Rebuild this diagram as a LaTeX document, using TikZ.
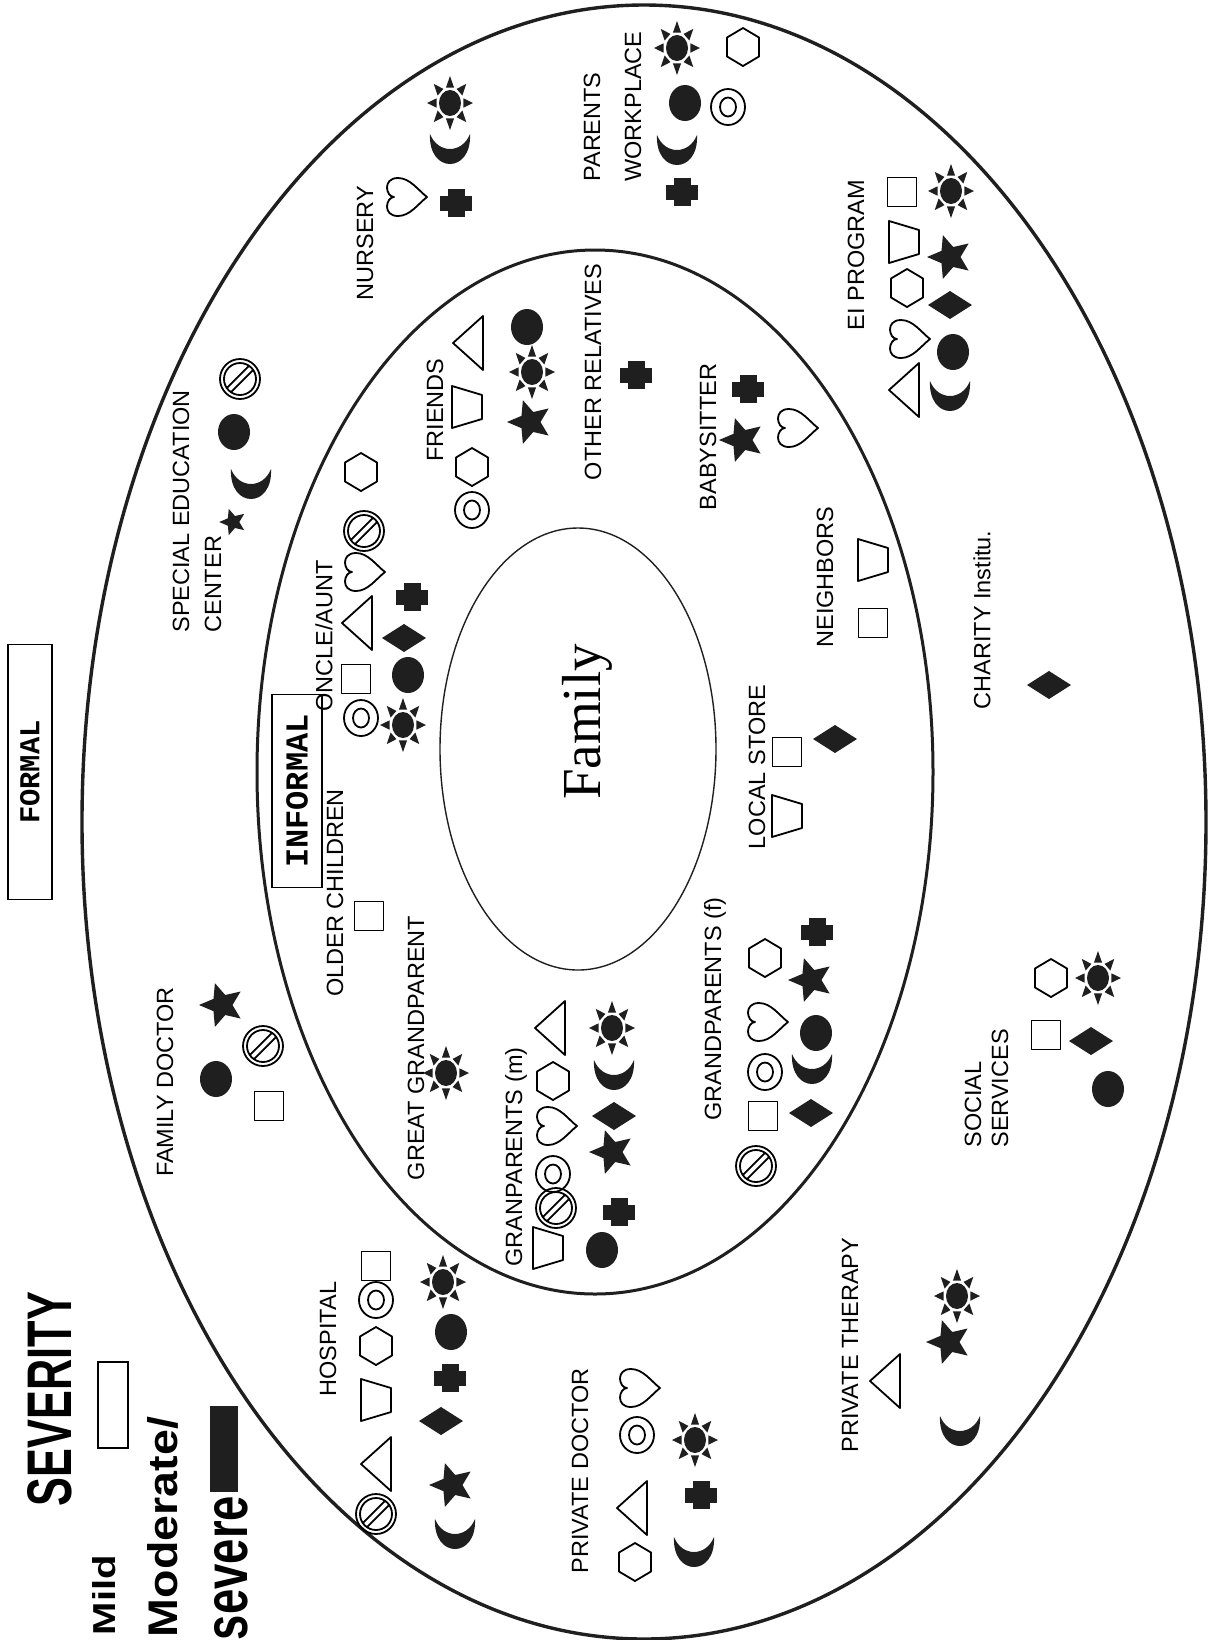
\documentclass[tikz,border=0pt]{standalone}
\usepackage{fontspec}
\setmainfont{Liberation Sans}
\newfontfamily\famfont{Liberation Serif}
\newfontfamily\boxfont{Liberation Mono}
\usepackage{graphicx}
\definecolor{ink}{gray}{0.12}

\tikzset{
  sym/.style={line width=0.9pt, line join=round},
  lbl/.style={rotate=90, inner sep=0pt, font=\fontsize{11.75}{13}\selectfont},
  pics/sqr/.style={code={\draw[sym] (-14.5,-14.5) rectangle (14.5,14.5);}},
  pics/trap/.style={code={\draw[sym] (-15,-21) -- (-15,21) -- (15,12) -- (15,-12) -- cycle;}},
  pics/tri/.style={code={\draw[sym] (-15,0) -- (15,-27) -- (15,27) -- cycle;}},
  pics/hexa/.style={code={\draw[sym] (0,-19) -- (16,-9.5) -- (16,9.5) -- (0,19) -- (-16,9.5) -- (-16,-9.5) -- cycle;}},
  pics/heart/.style={code={\draw[sym] (21,0) .. controls (12,-7) and (4,-19) .. (-8,-19)
      .. controls (-24,-19) and (-20,0) .. (-12,0) .. controls (-20,0) and (-24,19) .. (-8,19)
      .. controls (4,19) and (12,7) .. (21,0) -- cycle;}},
  pics/ring/.style={code={\draw[sym] (0,0) ellipse [x radius=17, y radius=18];
      \draw[sym] (0,0) ellipse [x radius=8, y radius=9.5];}},
  pics/nosign/.style={code={\draw[sym] (0,0) circle [radius=20];
      \draw[sym] (0,0) circle [radius=16];
      \draw[sym] (13.2,-9) -- (-9,13.2);
      \draw[sym] (9,-13.2) -- (-13.2,9);}},
  pics/dot/.style={code={\fill[ink] (0,0) ellipse [x radius=16, y radius=18];}},
  pics/sun/.style={code={\fill[ink] (0,0) ellipse [x radius=11, y radius=13];
      \foreach \a in {0,45,...,315}
        \fill[ink] ({23*cos(\a)},{27*sin(\a)}) -- ({14*cos(\a+17)},{16*sin(\a+17)})
          -- ({14*cos(\a-17)},{16*sin(\a-17)}) -- cycle;}},
  pics/starf/.style={code={\fill[ink] (180:23) -- (216:10.5) -- (252:23) -- (288:10.5) -- (324:23)
      -- (0:10.5) -- (36:23) -- (72:10.5) -- (108:23) -- (144:10.5) -- cycle;}},
  pics/diam/.style={code={\fill[ink] (-22,0) -- (0,-14) -- (22,0) -- (0,14) -- cycle;}},
  pics/crossf/.style={code={\fill[ink] (-16,-7.5) rectangle (16,7.5);
      \fill[ink] (-8.5,-14) rectangle (8.5,14);}},
  pics/moon/.style={code={\fill[ink] (-20,-14) .. controls (-22,26) and (22,26) .. (20,-14)
      .. controls (12,6) and (-12,6) .. (-20,-14) -- cycle;}}
}

\begin{document}
\begin{tikzpicture}[x=0.5pt,y=-0.5pt]
    \useasboundingbox (0,0) rectangle (1208,1640);
    \fill[white] (0,0) rectangle (1208,1640);

    % Rings: formal, informal, family
    \draw[ink, line width=1.7pt] (644,822) ellipse [x radius=562, y radius=817];
    \draw[ink, line width=1.5pt] (595,772) ellipse [x radius=338, y radius=522];
    \draw[ink, line width=0.7pt] (578,749) ellipse [x radius=138, y radius=221];
    \node[rotate=90, font=\famfont\fontsize{27.5}{30}\selectfont] (family) at (587,722) {Family};

    % Titles
    \node[draw, rotate=90, line width=0.6pt, minimum width=127.5pt, minimum height=22pt,
          font=\boxfont\bfseries\fontsize{14.4}{16}\selectfont] (formal) at (30,772) {FORMAL};
    \node[draw, rotate=90, line width=0.6pt, minimum width=96.5pt, minimum height=25pt,
          font=\boxfont\bfseries\fontsize{16}{18}\selectfont] (informal) at (297,791) {INFORMAL};

    % Severity legend
    \node[rotate=90, inner sep=0pt] (sev) at (50,1399) {\resizebox{107pt}{22pt}{\bfseries SEVERITY}};
    \node[rotate=90, inner sep=0pt] (mild) at (104,1595) {\resizebox{40pt}{11.5pt}{\bfseries Mild}};
    \node[draw, line width=0.6pt, minimum width=15pt, minimum height=43pt] (mildbox) at (113,1405) {};
    \node[rotate=90, inner sep=0pt] (moder) at (163,1527) {\resizebox{110pt}{15pt}{\bfseries Moderate/}};
    \node[fill=ink, minimum width=14pt, minimum height=43pt] (sevbox) at (224,1449) {};
    \node[rotate=90, inner sep=0pt] (severe) at (231,1568) {\resizebox{72pt}{16.5pt}{\bfseries severe}};

    % Family doctor
    \node[lbl] (famdoc) at (165,1082) {FAMILY DOCTOR};
    \pic at (222,1005) {starf};
    \pic at (216,1079) {dot};
    \pic at (263,1046) {nosign};
    \pic at (269,1106) {sqr};

    % Hospital
    \node[lbl] (hosp) at (328,1339) {HOSPITAL};
    \pic at (376,1266) {sqr};
    \pic at (376,1300) {ring};
    \pic at (376,1346) {hexa};
    \pic at (376,1400) {trap};
    \pic at (376,1464) {tri};
    \pic at (376,1514) {nosign};
    \pic at (443,1282) {sun};
    \pic at (451,1332) {dot};
    \pic at (450,1378) {crossf};
    \pic at (441,1421) {diam};
    \pic at (452,1485) {starf};
    \pic at (455,1533) {moon};

    % Private doctor
    \node[lbl] (privdoc) at (580,1471) {PRIVATE DOCTOR};
    \pic at (639,1388) {heart};
    \pic at (637,1435) {ring};
    \pic at (632,1508) {tri};
    \pic at (635,1562) {hexa};
    \pic at (695,1440) {sun};
    \pic at (701,1495) {crossf};
    \pic at (694,1551) {moon};

    % Private therapy
    \node[lbl] (privther) at (850,1345) {PRIVATE THERAPY};
    \pic at (885,1381) {tri};
    \pic at (957,1296) {sun};
    \pic at (949,1342) {starf};
    \pic at (960,1430) {moon};

    % Social services
    \node[lbl, anchor=west] (social) at (973,1148) {SOCIAL};
    \node[lbl, anchor=west] (services) at (1000,1148) {SERVICES};
    \pic at (1051,978) {hexa};
    \pic at (1098,978) {sun};
    \pic at (1046,1035) {sqr};
    \pic at (1091,1041) {diam};
    \pic at (1108,1089) {dot};

    % Grandparents (f)
    \node[lbl] (gpf) at (715,1009) {GRANDPARENTS (f)};
    \pic at (765,958) {hexa};
    \pic at (767,1022) {heart};
    \pic at (765,1072) {ring};
    \pic at (763,1116) {sqr};
    \pic at (756,1166) {nosign};
    \pic at (817,932) {crossf};
    \pic at (811,980) {starf};
    \pic at (816,1033) {dot};
    \pic at (812,1068) {moon};
    \pic at (811,1113) {diam};

    % Granparents (m)
    \node[lbl] (gpm) at (516,1157) {GRANPARENTS (m)};
    \pic at (550,1028) {tri};
    \pic at (553,1081) {hexa};
    \pic at (556,1126) {heart};
    \pic at (553,1174) {ring};
    \pic at (556,1208) {nosign};
    \pic at (548,1248) {trap};
    \pic at (612,1028) {sun};
    \pic at (614,1074) {moon};
    \pic at (614,1116) {diam};
    \pic at (612,1152) {starf};
    \pic at (619,1212) {crossf};
    \pic at (602,1250) {dot};

    % Great grandparent, older children
    \node[lbl] (ggp) at (416,1048) {GREAT GRANDPARENT};
    \pic at (446,1073) {sun};
    \node[lbl] (older) at (335,893) {OLDER CHILDREN};
    \pic at (369,916) {sqr};

    % Uncle / aunt
    \node[lbl] (oncle) at (324,636) {ONCLE/AUNT};
    \pic at (361,718) {ring};
    \pic at (356,679) {sqr};
    \pic at (357,623) {tri};
    \pic at (364,572) {heart};
    \pic at (364,531) {nosign};
    \pic at (361,472) {hexa};
    \pic at (403,725) {sun};
    \pic at (408,675) {dot};
    \pic at (404,638) {diam};
    \pic at (412,597) {crossf};

    % Friends
    \node[lbl] (friends) at (435,410) {FRIENDS};
    \pic at (472,510) {ring};
    \pic at (472,467) {hexa};
    \pic at (467,407) {trap};
    \pic at (468,343) {tri};
    \pic at (530,422) {starf};
    \pic at (532,372) {sun};
    \pic at (527,327) {dot};

    % Special education center
    \node[lbl, anchor=west] (spec) at (181,633) {SPECIAL EDUCATION};
    \node[lbl, anchor=west] (specctr) at (213,633) {CENTER};
    \pic[scale=0.6] at (233,522) {starf};
    \pic at (251,483) {moon};
    \pic at (234,432) {dot};
    \pic at (240,379) {nosign};

    % Nursery
    \node[lbl] (nursery) at (365,243) {NURSERY};
    \pic at (406,197) {heart};
    \pic at (456,203) {crossf};
    \pic at (450,148) {moon};
    \pic at (450,103) {sun};

    % Parents workplace
    \node[lbl, anchor=west] (parents) at (592,182) {PARENTS};
    \node[lbl, anchor=west] (workplace) at (633,182) {WORKPLACE};
    \pic at (677,48) {sun};
    \pic at (685,103) {dot};
    \pic at (677,149) {moon};
    \pic at (682,192) {crossf};
    \pic at (743,47) {hexa};
    \pic at (728,107) {ring};

    % Other relatives, babysitter
    \node[lbl] (otherrel) at (593,372) {OTHER RELATIVES};
    \pic at (636,375) {crossf};
    \node[lbl] (babysit) at (708,437) {BABYSITTER};
    \pic at (748,389) {crossf};
    \pic at (742,440) {starf};
    \pic at (797,428) {heart};

    % EI program
    \node[lbl] (eiprog) at (856,255) {EI PROGRAM};
    \pic at (902,192) {sqr};
    \pic at (904,242) {trap};
    \pic at (907,288) {hexa};
    \pic at (909,339) {heart};
    \pic at (904,390) {tri};
    \pic at (951,191) {sun};
    \pic at (950,257) {starf};
    \pic at (950,305) {diam};
    \pic at (953,352) {dot};
    \pic at (950,395) {moon};

    % Neighbors, local store, charity
    \node[lbl] (neigh) at (825,577) {NEIGHBORS};
    \pic at (873,623) {sqr};
    \pic at (873,560) {trap};
    \node[lbl] (store) at (757,767) {LOCAL STORE};
    \pic at (787,752) {sqr};
    \pic at (787,816) {trap};
    \pic at (835,739) {diam};
    \node[lbl] (charity) at (982,620) {CHARITY Institu.};
    \pic at (1049,685) {diam};
\end{tikzpicture}
\end{document}
